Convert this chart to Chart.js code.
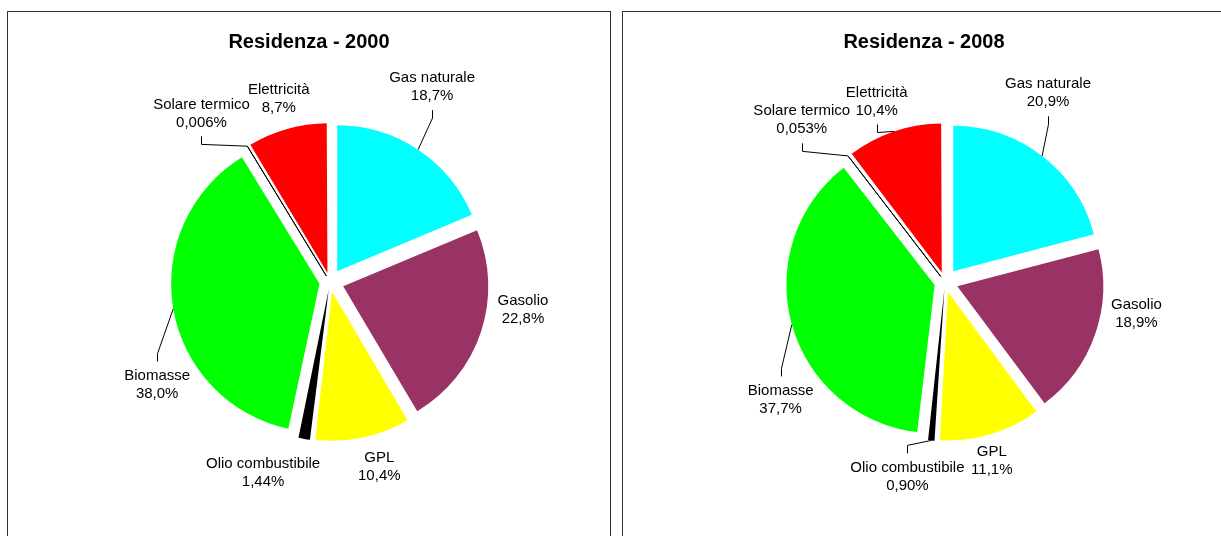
<!DOCTYPE html>
<html>
<head>
<meta charset="utf-8">
<script src="https://cdn.jsdelivr.net/npm/chart.js@4.4.1/dist/chart.umd.min.js"></script>
<style>
  html, body { margin: 0; padding: 0; background: #fff; overflow: hidden; width: 1221px; height: 536px; }
  .pannello { position: absolute; top: 11px; width: 602px; height: 540px; border: 1px solid #333; background: #fff; }
  #p2000 { left: 7px; }
  #p2008 { left: 622px; }
  canvas { display: block; }
</style>
</head>
<body>
<div class="pannello" id="p2000"><canvas id="torta2000" width="602" height="524"></canvas></div>
<div class="pannello" id="p2008"><canvas id="torta2008" width="602" height="524"></canvas></div>
<script>
// dati
const categorie = ['Gas naturale', 'Gasolio', 'GPL', 'Olio combustibile', 'Biomasse', 'Solare termico', 'Elettricità'];
const valori2000 = [18.7, 22.8, 10.4, 1.44, 38.0, 0.006, 8.7];
const valori2008 = [20.9, 18.9, 11.1, 0.90, 37.7, 0.053, 10.4];
const decimali2000 = [1, 1, 1, 2, 1, 3, 1];
const decimali2008 = [1, 1, 1, 2, 1, 3, 1];

const colori = ['#00FFFF', '#993366', '#FFFF00', '#000000', '#00FF00', '#FF9999', '#FF0000'];
const bordi = [0, 0, 0, 0, 0, 1, 0];
const ESPLOSO = 14; // distacco delle fette in px

// posizione etichette: rotazione (gradi) rispetto al centro della fetta, distanza oltre il bordo (px)
const rot2000 = [-6, -10, -3, 10, -21, -6, 0];
const dist2000 = [75, 50, 46, 57, 56, 67, 45];
const linee2000 = [true, false, false, false, true, true, false];
const rot2008 = [-9, -10, 2, 6, -20, -4, -2];
const dist2008 = [70, 49, 40, 53, 57, 71, 48];
const linee2008 = [true, false, false, true, true, true, true];

const FONT = '"Liberation Sans", Arial, sans-serif';

// Chart.js v4 sposta la fetta di offset/4*(1+fix): lo compenso per avere lo stesso distacco per tutte
function offsetFetta(context) {
  const dati = context.chart.data.datasets[0].data;
  const tot = dati.reduce((a, b) => a + b, 0);
  const circ = 2 * Math.PI * dati[context.dataIndex] / tot;
  const fix = 1 - Math.sin(Math.min(Math.PI, circ));
  return 4 * ESPLOSO / (1 + fix);
}

const etichettePlugin = {
  id: 'etichette',
  afterDatasetsDraw(chart, args, opts) {
    const ctx = chart.ctx;
    const meta = chart.getDatasetMeta(0);
    const ds = chart.data.datasets[0];
    ctx.save();
    ctx.fillStyle = '#000';
    ctx.textAlign = 'center';
    ctx.textBaseline = 'middle';
    ctx.font = 'bold 20px ' + FONT;
    ctx.fillText(opts.titolo, chart.width / 2, 30);

    ctx.font = '15px ' + FONT;
    ctx.strokeStyle = '#000';
    ctx.lineWidth = 1;
    meta.data.forEach((arc, i) => {
      const p = arc.getProps(['x', 'y', 'startAngle', 'endAngle', 'outerRadius'], true);
      const mid = (p.startAngle + p.endAngle) / 2;
      const rimX = p.x + Math.cos(mid) * (p.outerRadius + ESPLOSO);
      const rimY = p.y + Math.sin(mid) * (p.outerRadius + ESPLOSO);
      const a = mid + opts.rot[i] * Math.PI / 180;
      const d = p.outerRadius + opts.dist[i];
      const lx = p.x + Math.cos(a) * d;
      const ly = p.y + Math.sin(a) * d;

      const pct = ds.data[i].toFixed(opts.decimali[i]).replace('.', ',') + '%';
      ctx.fillText(chart.data.labels[i], lx, ly - 9);
      ctx.fillText(pct, lx, ly + 9);

      if (opts.linee[i]) {
        const s = ly < rimY ? 1 : -1;
        ctx.beginPath();
        ctx.moveTo(Math.round(lx) + 0.5, ly + s * 23);
        ctx.lineTo(Math.round(lx) + 0.5, ly + s * 31);
        ctx.lineTo(rimX, rimY);
        ctx.stroke();
      }
    });
    ctx.restore();
  }
};

function creaTorta(id, titolo, valori, decimali, rot, dist, linee) {
  return new Chart(document.getElementById(id), {
    type: 'pie',
    data: {
      labels: categorie,
      datasets: [{
        data: valori,
        backgroundColor: colori,
        borderColor: '#000',
        borderWidth: bordi,
        offset: offsetFetta
      }]
    },
    options: {
      responsive: false,
      animation: false,
      radius: 145,
      layout: { padding: { left: 42, right: 0, top: 16, bottom: 0 } },
      plugins: {
        legend: { display: false },
        tooltip: { enabled: false },
        title: { display: false },
        etichette: { titolo: titolo, decimali: decimali, rot: rot, dist: dist, linee: linee }
      }
    },
    plugins: [etichettePlugin]
  });
}

creaTorta('torta2000', 'Residenza - 2000', valori2000, decimali2000, rot2000, dist2000, linee2000);
creaTorta('torta2008', 'Residenza - 2008', valori2008, decimali2008, rot2008, dist2008, linee2008);
</script>
</body>
</html>
